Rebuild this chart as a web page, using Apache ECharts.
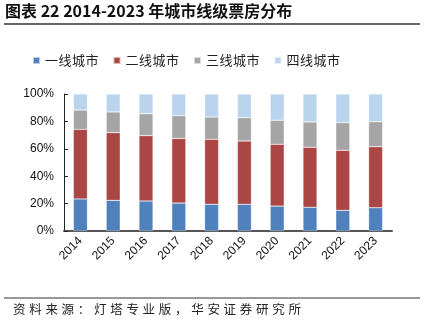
<!DOCTYPE html>
<html><head><meta charset="utf-8">
<script src="https://cdn.jsdelivr.net/npm/echarts@6/dist/echarts.min.js"></script>
<style>html,body{margin:0;padding:0;background:#fff}#c{width:424px;height:325px}</style>
</head><body><div id="c"></div>
<script>
const categories = ['2014','2015','2016','2017','2018','2019','2020','2021','2022','2023'];
const tier1 = [23.4, 22.4, 21.9, 20.4, 19.5, 19.5, 18.2, 17.3, 15.1, 17.0];
const tier2 = [50.8, 49.4, 47.7, 47.2, 47.4, 46.2, 45.1, 43.8, 43.8, 44.5];
const tier3 = [14.1, 15.1, 16.0, 16.6, 16.3, 17.0, 17.5, 18.5, 20.2, 18.3];
const tier4 = [11.7, 13.1, 14.4, 15.8, 16.8, 17.3, 19.2, 20.4, 20.9, 20.2];
const seriesNames = ['一线城市','二线城市','三线城市','四线城市'];
const titleText = '图表 22 2014-2023 年城市线级票房分布';
const sourceText = '资料来源：灯塔专业版，华安证券研究所';
const colors = ['#4F81BD','#AA4643','#A5A5A5','#BAD4EE'];
const dataSets = [tier1, tier2, tier3, tier4];
const cjk = '"Noto Sans CJK SC", "Noto Sans", sans-serif';
function spaced(s){ return s.split('').map(c=>'{a|'+c+'}').join(''); }
const chart = echarts.init(document.getElementById('c'), null, {renderer:'canvas'});
chart.setOption({
  animation:false,
  color: colors,
  graphic:[
    {type:'text', left:5, top:3, style:{text:titleText, font:'bold 16px '+cjk, fill:'#111'}},
    {type:'line', shape:{x1:4,y1:24,x2:420,y2:24}, style:{stroke:'#333', lineWidth:1.5}},
    {type:'line', shape:{x1:4,y1:298,x2:420,y2:298}, style:{stroke:'#333', lineWidth:1}},
    {type:'text', left:13, top:303, style:{text:spaced(sourceText), rich:{a:{width:16.2, fontFamily:cjk, fontSize:12.5, fill:'#222', color:'#222'}}}}
  ],
  legend:{
    top:49, left:27, itemWidth:7, itemHeight:7, itemGap:14,
    icon:'rect',
    formatter: name => spaced(name),
    textStyle:{fontFamily:cjk, fontSize:13, color:'#222', rich:{a:{width:13.5, fontFamily:cjk, fontSize:13, color:'#222'}}},
    data: seriesNames
  },
  grid:{left:64, right:32, top:94, bottom:94, containLabel:false},
  xAxis:{
    type:'category', data:categories,
    axisLine:{lineStyle:{color:'#555', width:2}},
    axisTick:{show:false},
    axisLabel:{rotate:45, fontFamily:'Liberation Sans, Arial, sans-serif', fontSize:12, color:'#111', margin:8}
  },
  yAxis:{
    type:'value', min:0, max:100, interval:20,
    axisLine:{show:true, lineStyle:{color:'#222', width:1}},
    axisTick:{show:true, inside:true, length:4, lineStyle:{color:'#222'}},
    splitLine:{show:false},
    axisLabel:{formatter:'{value}%', fontFamily:'Liberation Sans, Arial, sans-serif', fontSize:12, color:'#111', margin:10}
  },
  series: seriesNames.map((n,i)=>({
    name:n, type:'bar', stack:'total', data:dataSets[i], barWidth:14,
    itemStyle:{color:colors[i], borderColor:'rgba(255,255,255,0.6)', borderWidth:0.5}
  }))
});
</script></body></html>
